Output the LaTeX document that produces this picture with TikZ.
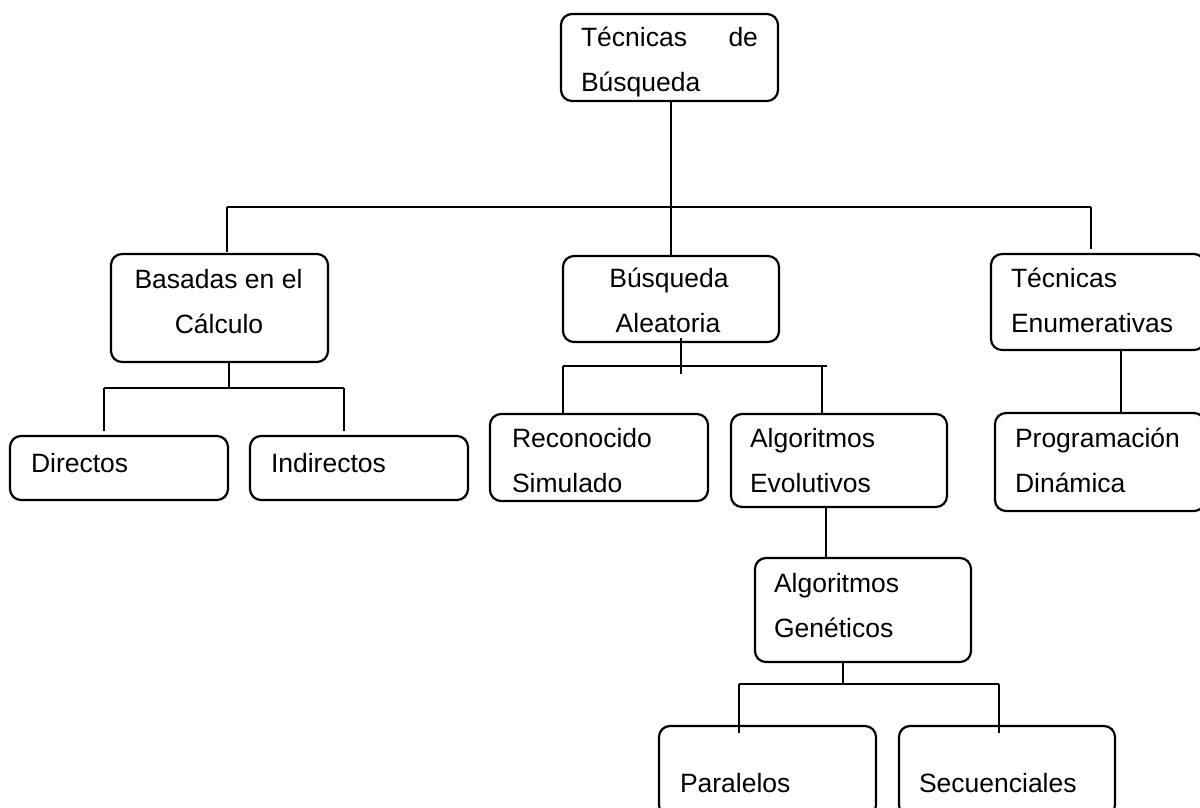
\documentclass[tikz,border=0pt]{standalone}
\usepackage{fontspec}
\setmainfont{Liberation Sans}
\begin{document}
\begin{tikzpicture}[x=1pt,y=-1pt,
  box/.style={draw=black,line width=2.2pt,rounded corners=11pt,inner sep=0pt,outer sep=0pt,anchor=north west},
  conn/.style={draw=black,line width=1.6pt},
  txt/.style={inner sep=0pt,outer sep=0pt,font=\fontsize{26.5}{30}\selectfont}]
\useasboundingbox (0,0) rectangle (1200,808);
\clip (0,0) rectangle (1200,808);
% boxes
\node[box,minimum width=217pt,minimum height=87pt] (top) at (561,14) {};
\node[box,minimum width=217pt,minimum height=108pt] (bas) at (111,254) {};
\node[box,minimum width=216pt,minimum height=86pt] (busq) at (563,256) {};
\node[box,minimum width=214pt,minimum height=96pt] (enum) at (991,254) {};
\node[box,minimum width=218pt,minimum height=64pt] (dir) at (10,436) {};
\node[box,minimum width=218pt,minimum height=64pt] (ind) at (250,436) {};
\node[box,minimum width=218pt,minimum height=87pt] (rec) at (490,414) {};
\node[box,minimum width=216pt,minimum height=93pt] (evo) at (731,414) {};
\node[box,minimum width=210pt,minimum height=98pt] (prog) at (995,413) {};
\node[box,minimum width=216pt,minimum height=104pt] (gen) at (755,558) {};
\node[box,minimum width=217pt,minimum height=90pt] (par) at (659,726) {};
\node[box,minimum width=216pt,minimum height=90pt] (sec) at (899,726) {};
% texts
\node[txt,anchor=base west] (t-top1) at (581,47) {\makebox[177pt]{Técnicas\hfill de}};
\node[txt,anchor=base west] (t-top2) at (581,92) {Búsqueda};
\node[txt,anchor=base] (t-bas1) at (218.5,288) {Basadas en el};
\node[txt,anchor=base] (t-bas2) at (219,333) {Cálculo};
\node[txt,anchor=base] (t-busq1) at (669,287) {Búsqueda};
\node[txt,anchor=base] (t-busq2) at (668,332) {Aleatoria};
\node[txt,anchor=base west] (t-enum1) at (1011,287) {Técnicas};
\node[txt,anchor=base west] (t-enum2) at (1011,332) {Enumerativas};
\node[txt,anchor=base west] (t-dir) at (31,472) {Directos};
\node[txt,anchor=base west] (t-ind) at (271,472) {Indirectos};
\node[txt,anchor=base west] (t-rec1) at (512,447) {Reconocido};
\node[txt,anchor=base west] (t-rec2) at (512,492) {Simulado};
\node[txt,anchor=base west] (t-evo1) at (750,447) {Algoritmos};
\node[txt,anchor=base west] (t-evo2) at (750,492) {Evolutivos};
\node[txt,anchor=base west] (t-prog1) at (1015,447) {Programación};
\node[txt,anchor=base west] (t-prog2) at (1015,492) {Dinámica};
\node[txt,anchor=base west] (t-gen1) at (774,592) {Algoritmos};
\node[txt,anchor=base west] (t-gen2) at (774,637) {Genéticos};
\node[txt,anchor=base west] (t-par) at (680,792) {Paralelos};
\node[txt,anchor=base west] (t-sec) at (919,792) {Secuenciales};
% junction coordinates
\coordinate (bL) at (227,207);
\coordinate (bR) at (1091,207);
\coordinate (j1) at (229,388);
\coordinate (j1l) at (104,388);
\coordinate (j1r) at (344,388);
\coordinate (j2) at (681,374);
\coordinate (j2l) at (563,366);
\coordinate (j2r) at (827,366);
\coordinate (j2v) at (822,366);
\coordinate (j3) at (1121,380);
\coordinate (j4) at (826,530);
\coordinate (j5) at (843,684);
\coordinate (j5l) at (739,684);
\coordinate (j5r) at (999,684);
% connectors
\draw[conn] (top.south -| busq.north) -- (busq.north);
\draw[conn] (bL) -- (bR);
\draw[conn] (bL) -- ([yshift=2pt]bL |- bas.north);
\draw[conn] (bR) -- ([yshift=5pt]bR |- enum.north);
\draw[conn] (bas.south -| j1) -- (j1);
\draw[conn] (j1l) -- (j1r);
\draw[conn] (j1l) -- ([yshift=5pt]j1l |- dir.north);
\draw[conn] (j1r) -- ([yshift=5pt]j1r |- ind.north);
\draw[conn] ([yshift=4pt]busq.south -| j2) -- (j2);
\draw[conn] (j2l) -- (j2r);
\draw[conn] (j2l) -- (j2l |- rec.north);
\draw[conn] (j2v) -- (j2v |- evo.north);
\draw[conn] (enum.south -| j3) -- (prog.north -| j3);
\draw[conn] (evo.south -| j4) -- (gen.north -| j4);
\draw[conn] (gen.south -| j5) -- (j5);
\draw[conn] (j5l) -- (j5r);
\draw[conn] (j5l) -- ([yshift=-7pt]j5l |- par.north);
\draw[conn] (j5r) -- ([yshift=-7pt]j5r |- sec.north);
\end{tikzpicture}
\end{document}
